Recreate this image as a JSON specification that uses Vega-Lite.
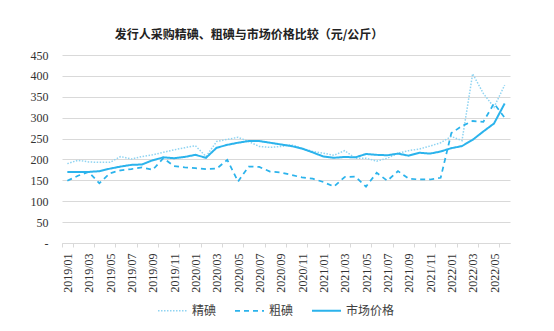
{
  "$schema": "https://vega.github.io/schema/vega-lite/v6.json",
  "width": 448,
  "height": 188,
  "autosize": {"type": "none"},
  "padding": {"left": 62, "top": 55, "right": 44, "bottom": 88},
  "background": "white",
  "title": {
    "text": "发行人采购精碘、粗碘与市场价格比较（元/公斤）",
    "font": "Noto Sans CJK SC",
    "fontSize": 12,
    "fontWeight": "bold",
    "color": "#222222",
    "anchor": "middle",
    "dx": -37,
    "offset": 7
  },
  "config": {"view": {"stroke": null}},
  "data": {
    "values": [
      {"m": "2019/01", "精碘": 190, "粗碘": 149, "市场价格": 170},
      {"m": "2019/02", "精碘": 198, "粗碘": 161, "市场价格": 170},
      {"m": "2019/03", "精碘": 194, "粗碘": 170, "市场价格": 170},
      {"m": "2019/04", "精碘": 193, "粗碘": 143, "市场价格": 172},
      {"m": "2019/05", "精碘": 193, "粗碘": 167, "市场价格": 178},
      {"m": "2019/06", "精碘": 207, "粗碘": 174, "市场价格": 183},
      {"m": "2019/07", "精碘": 201, "粗碘": 177, "市场价格": 187},
      {"m": "2019/08", "精碘": 207, "粗碘": 181, "市场价格": 188},
      {"m": "2019/09", "精碘": 211, "粗碘": 175, "市场价格": 198},
      {"m": "2019/10", "精碘": 217, "粗碘": 203, "市场价格": 205},
      {"m": "2019/11", "精碘": 223, "粗碘": 184, "市场价格": 203},
      {"m": "2019/12", "精碘": 228, "粗碘": 181, "市场价格": 206},
      {"m": "2020/01", "精碘": 233, "粗碘": 179, "市场价格": 211},
      {"m": "2020/02", "精碘": 207, "粗碘": 177, "市场价格": 204},
      {"m": "2020/03", "精碘": 243, "粗碘": 178, "市场价格": 228},
      {"m": "2020/04", "精碘": 248, "粗碘": 199, "市场价格": 235},
      {"m": "2020/05", "精碘": 253, "粗碘": 147, "市场价格": 240},
      {"m": "2020/06", "精碘": 243, "粗碘": 183, "市场价格": 244},
      {"m": "2020/07", "精碘": 231, "粗碘": 182, "市场价格": 244},
      {"m": "2020/08", "精碘": 229, "粗碘": 171, "市场价格": 240},
      {"m": "2020/09", "精碘": 231, "粗碘": 169, "市场价格": 236},
      {"m": "2020/10", "精碘": 235, "粗碘": 163, "市场价格": 232},
      {"m": "2020/11", "精碘": 227, "粗碘": 157, "市场价格": 226},
      {"m": "2020/12", "精碘": 219, "粗碘": 154, "市场价格": 217},
      {"m": "2021/01", "精碘": 215, "粗碘": 146, "市场价格": 207},
      {"m": "2021/02", "精碘": 210, "粗碘": 135, "市场价格": 204},
      {"m": "2021/03", "精碘": 221, "粗碘": 158, "市场价格": 206},
      {"m": "2021/04", "精碘": 203, "粗碘": 159, "市场价格": 205},
      {"m": "2021/05", "精碘": 203, "粗碘": 135, "市场价格": 213},
      {"m": "2021/06", "精碘": 196, "粗碘": 168, "市场价格": 211},
      {"m": "2021/07", "精碘": 203, "粗碘": 149, "市场价格": 210},
      {"m": "2021/08", "精碘": 215, "粗碘": 172, "市场价格": 214},
      {"m": "2021/09", "精碘": 221, "粗碘": 154, "市场价格": 209},
      {"m": "2021/10", "精碘": 225, "粗碘": 152, "市场价格": 216},
      {"m": "2021/11", "精碘": 232, "粗碘": 152, "市场价格": 214},
      {"m": "2021/12", "精碘": 240, "粗碘": 156, "市场价格": 219},
      {"m": "2022/01", "精碘": 255, "粗碘": 263, "市场价格": 227},
      {"m": "2022/02", "精碘": 245, "粗碘": 280, "市场价格": 232},
      {"m": "2022/03", "精碘": 405, "粗碘": 292, "市场价格": 247},
      {"m": "2022/04", "精碘": 358, "粗碘": 290, "市场价格": 267},
      {"m": "2022/05", "精碘": 325, "粗碘": 334, "市场价格": 286},
      {"m": "2022/06", "精碘": 378, "粗碘": 300, "市场价格": 334}
    ]
  },
  "transform": [{"fold": ["精碘", "粗碘", "市场价格"], "as": ["series", "value"]}],
  "mark": {"type": "line"},
  "encoding": {
    "x": {
      "field": "m",
      "type": "ordinal",
      "sort": null,
      "scale": {"type": "band", "paddingInner": 0, "paddingOuter": 0},
      "axis": {
        "title": null,
        "values": ["2019/01","2019/03","2019/05","2019/07","2019/09","2019/11","2020/01","2020/03","2020/05","2020/07","2020/09","2020/11","2021/01","2021/03","2021/05","2021/07","2021/09","2021/11","2022/01","2022/03","2022/05"],
        "labelAngle": -90,
        "labelFont": "Liberation Serif",
        "labelFontSize": 12,
        "labelColor": "#333333",
        "domainColor": "#d9d9d9",
        "tickColor": "#d9d9d9",
        "tickSize": 4,
        "tickBand": "extent",
        "labelPadding": 6,
        "grid": false
      }
    },
    "y": {
      "field": "value",
      "type": "quantitative",
      "scale": {"domain": [0, 450]},
      "axis": {
        "title": null,
        "values": [0, 50, 100, 150, 200, 250, 300, 350, 400, 450],
        "domain": false,
        "ticks": false,
        "labelPadding": 14,
        "labelFont": "Liberation Serif",
        "labelFontSize": 12,
        "labelColor": "#333333",
        "gridColor": "#d9d9d9",
        "gridWidth": 1.2,
        "labelExpr": "datum.value == 0 ? '-' : datum.label"
      }
    },
    "color": {
      "field": "series",
      "type": "nominal",
      "scale": {"domain": ["精碘", "粗碘", "市场价格"], "range": ["#8fd4f2", "#2bb3ec", "#2bb3ec"]},
      "legend": {
        "title": null,
        "orient": "none",
        "legendX": 95,
        "legendY": 240,
        "direction": "horizontal",
        "symbolType": "stroke",
        "symbolSize": 841,
        "labelFont": "Noto Sans CJK SC",
        "labelFontSize": 12,
        "labelColor": "#404040",
        "columnPadding": 14
      }
    },
    "strokeDash": {
      "field": "series",
      "type": "nominal",
      "scale": {"domain": ["精碘", "粗碘", "市场价格"], "range": [[1.5, 1.5], [5, 4], [1, 0]]},
      "legend": {"title": null}
    },
    "strokeWidth": {
      "field": "series",
      "type": "nominal",
      "scale": {"domain": ["精碘", "粗碘", "市场价格"], "range": [1.5, 2, 2]},
      "legend": {"title": null}
    }
  }
}
